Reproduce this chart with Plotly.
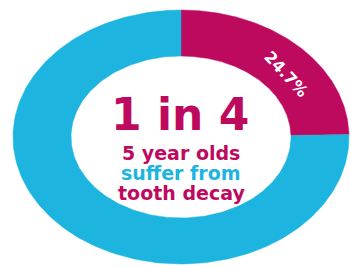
import numpy as np
import plotly.graph_objects as go

# Data
labels = ["5 year olds with tooth decay", "5 year olds without tooth decay"]
values = [24.7, 75.3]
colors = ["#BE0A5E", "#1DB4DF"]
slice_text = ["24.7%", ""]

# Geometry (pixel space of 351x268 canvas)
W, H = 351, 268
cx, cy = 181, 137
outer_a, outer_b = 168, 127
inner_a, inner_b = 110, 81

fig = go.Figure()
total = sum(values)
start = 0.0
for lab, v, col, txt in zip(labels, values, colors, slice_text):
    frac0 = start / total
    frac1 = (start + v) / total
    t = np.linspace(frac0 * 2 * np.pi, frac1 * 2 * np.pi, 200)
    xo = cx + outer_a * np.sin(t)
    yo = cy - outer_b * np.cos(t)
    xi = cx + inner_a * np.sin(t[::-1])
    yi = cy - inner_b * np.cos(t[::-1])
    xs = np.concatenate([xo, xi, xo[:1]])
    ys = np.concatenate([yo, yi, yo[:1]])
    fig.add_trace(go.Scatter(x=xs, y=ys, fill="toself", fillcolor=col,
                             line=dict(color=col, width=0.5), mode="lines",
                             name=lab, hoverinfo="name"))
    if txt:
        tm = (frac0 + frac1) / 2 * 2 * np.pi
        ma = (outer_a + inner_a) / 2
        mb = (outer_b + inner_b) / 2
        fig.add_annotation(x=cx + ma * np.sin(tm) + 8, y=cy - mb * np.cos(tm) + 12,
                           text="<b>" + txt + "</b>", showarrow=False, textangle=47,
                           font=dict(family="DejaVu Sans", size=16, color="white", weight="bold"),
                           xref="x", yref="y")
    start += v

magenta = colors[0]
cyan = colors[1]
fig.add_annotation(x=180, y=114, xref="x", yref="y", text="<b>1 in 4</b>", showarrow=False,
                   font=dict(family="DejaVu Sans", size=44, color=magenta, weight="bold"))
fig.add_annotation(x=181, y=153, xref="x", yref="y", text="<b>5 year olds</b>", showarrow=False,
                   font=dict(family="DejaVu Sans", size=19, color=magenta, weight="bold"))
fig.add_annotation(x=181, y=173, xref="x", yref="y", text="<b>suffer from</b>", showarrow=False,
                   font=dict(family="DejaVu Sans", size=19, color=cyan, weight="bold"))
fig.add_annotation(x=181, y=193, xref="x", yref="y", text="<b>tooth decay</b>", showarrow=False,
                   font=dict(family="DejaVu Sans", size=19, color=magenta, weight="bold"))

fig.update_layout(width=W, height=H, margin=dict(l=0, r=0, t=0, b=0),
                  paper_bgcolor="white", plot_bgcolor="white", showlegend=False,
                  xaxis=dict(range=[0, W], visible=False, fixedrange=True),
                  yaxis=dict(range=[H, 0], visible=False, fixedrange=True))
fig.write_html("out.html", config={"displayModeBar": False},
               post_script="document.body.style.margin='0';document.body.style.overflow='hidden';")
